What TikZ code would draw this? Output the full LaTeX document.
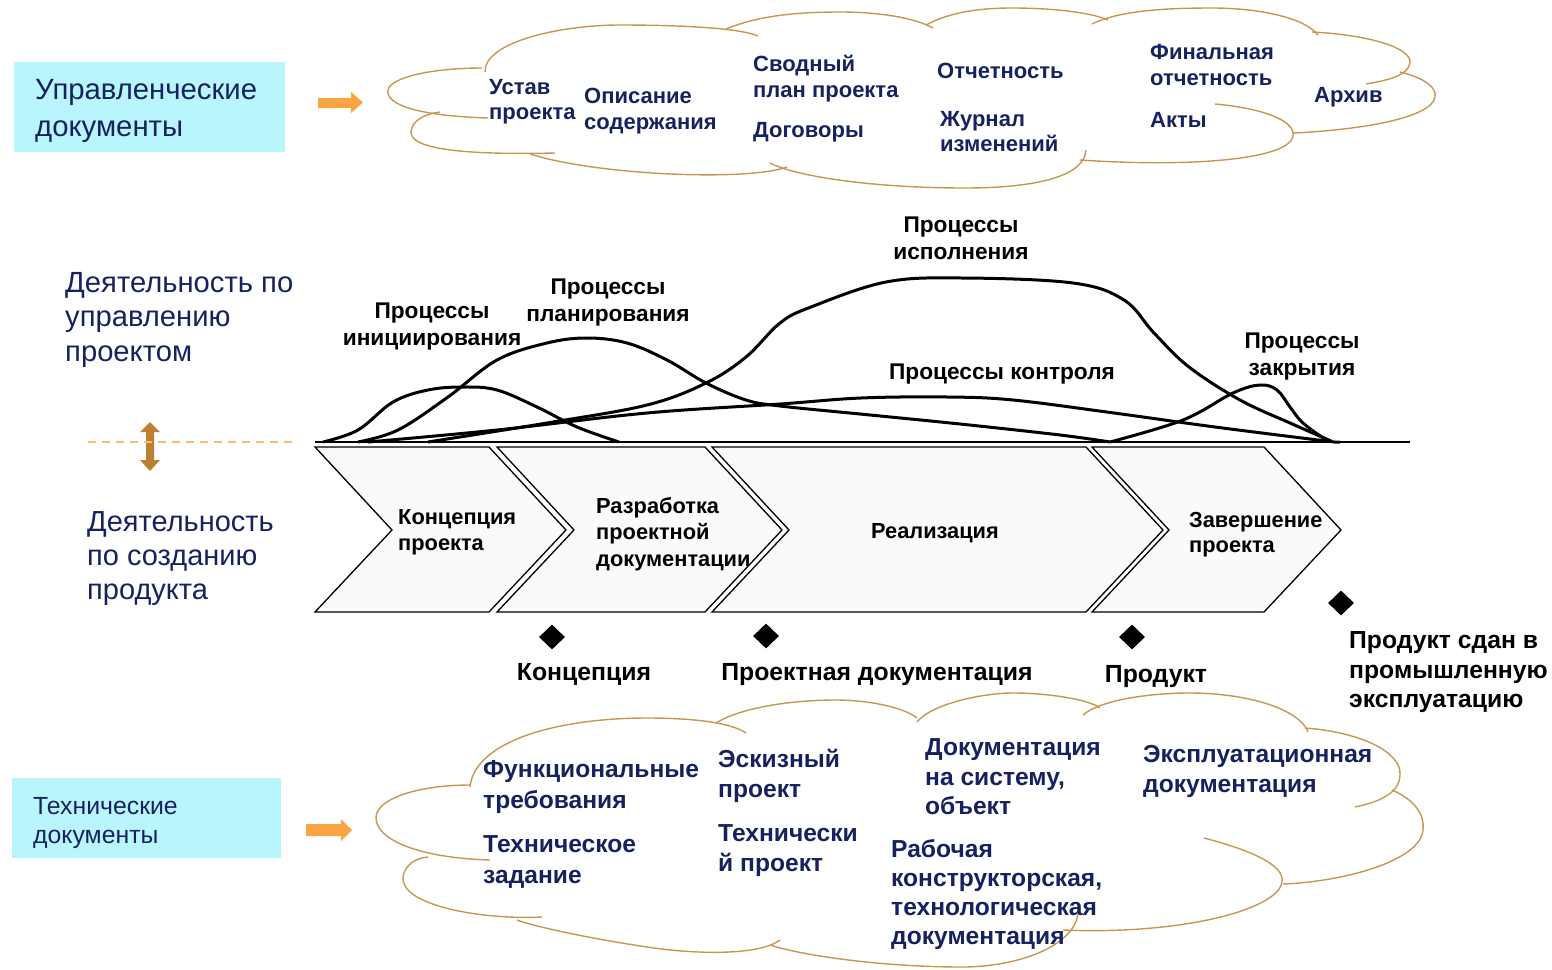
\documentclass[tikz,border=0pt]{standalone}
\usepackage{fontspec}
\setmainfont{Liberation Sans}
\usetikzlibrary{shapes.geometric}
\definecolor{navy}{RGB}{22,34,96}
\definecolor{cyanbox}{RGB}{185,245,253}
\definecolor{cloudc}{RGB}{200,150,80}
\definecolor{arroworange}{RGB}{250,165,65}
\definecolor{brownarrow}{RGB}{190,128,48}
\definecolor{dashorange}{RGB}{250,190,110}
\definecolor{chevfill}{RGB}{250,250,250}
\begin{document}
\begin{tikzpicture}[x=1pt,y=-1pt,
  cloudline/.style={draw=cloudc, line width=1.4pt},
  curve/.style={line width=3pt, line join=round},
  chev/.style={fill=chevfill, draw=black, line width=1.3pt, line join=miter},
  plabel/.style={font=\fontsize{22.7}{27}\selectfont\bfseries, align=center, inner sep=0pt, text=black, yshift=-2.5pt},
  ctxt/.style={font=\fontsize{22}{25.5}\selectfont\bfseries, align=left, inner sep=0pt, anchor=west, text=navy, yshift=-2.5pt},
  btxt/.style={font=\fontsize{24.6}{30}\selectfont\bfseries, align=left, inner sep=0pt, anchor=west, text=navy, yshift=-2.5pt},
  chtxt/.style={font=\fontsize{21.8}{26.5}\selectfont\bfseries, align=left, inner sep=0pt, anchor=west, text=black, yshift=-2.5pt},
  mtxt/.style={font=\fontsize{24.8}{30}\selectfont\bfseries, align=left, inner sep=0pt, text=black, yshift=-2.5pt},
  leftlbl/.style={font=\fontsize{29.2}{34.5}\selectfont, align=left, inner sep=0pt, anchor=west, text=navy, yshift=-3.5pt},
  docbox/.style={fill=cyanbox, draw=none, inner sep=0pt},
  milestone/.style={diamond, fill=black, minimum width=26pt, minimum height=25pt, inner sep=0pt}
]
\useasboundingbox (0,0) rectangle (1552,969);

% ---------- left labels ----------
\node[docbox, minimum width=271pt, minimum height=90pt] (mbox) at (149.5,107) {};
\node[leftlbl, font=\fontsize{29.3}{37}\selectfont] (mboxtext) at (35,107.5) {Управленческие\\документы};
\node[docbox, minimum width=269pt, minimum height=80pt] (tbox) at (146.5,818) {};
\node[leftlbl, font=\fontsize{24.8}{29}\selectfont] (tboxtext) at (33,819.5) {Технические\\документы};
\node[leftlbl] (mgmt) at (65,316) {Деятельность по\\управлению\\проектом};
\node[leftlbl, font=\fontsize{29}{34}\selectfont] (prod) at (87,555.5) {Деятельность\\по созданию\\продукта};

% orange arrows
\fill[arroworange] (318,98) -- (351,98) -- (351,92) -- (363,102.5) -- (351,113) -- (351,108) -- (318,108) -- cycle;
\fill[arroworange] (306,824) -- (341,824) -- (341,819) -- (352,830) -- (341,841) -- (341,836) -- (306,836) -- cycle;

% vertical double arrow and dashed line
\fill[brownarrow] (150,422) -- (160,432) -- (154,432) -- (154,460) -- (160,460) -- (150,471) -- (140,460) -- (146,460) -- (146,432) -- (140,432) -- cycle;
\draw[dashorange, line width=2.5pt, dash pattern=on 8pt off 6pt] (88,442) -- (295,442);

% ---------- top cloud ----------
\draw[cloudline] (485,72) .. controls (484,42) and (560,25) .. (620,25) .. controls (680,25) and (740,28) .. (758,36);
\draw[cloudline] (726,29) .. controls (760,15) and (800,12) .. (840,12) .. controls (880,12) and (915,18) .. (933,28);
\draw[cloudline] (926,25) .. controls (950,12) and (980,8) .. (1012,8) .. controls (1050,8) and (1090,12) .. (1108,20);
\draw[cloudline] (1092,24) .. controls (1120,10) and (1170,8) .. (1212,8) .. controls (1260,8) and (1305,18) .. (1318,35);
\draw[cloudline] (1312,32) .. controls (1370,35) and (1412,48) .. (1410,63) .. controls (1408,75) and (1390,80) .. (1366,84);
\draw[cloudline] (1400,72) .. controls (1425,78) and (1437,88) .. (1435,97) .. controls (1432,118) and (1360,130) .. (1293,133);
\draw[cloudline] (1215,104) .. controls (1260,108) and (1296,120) .. (1293,136) .. controls (1290,158) and (1200,168) .. (1080,160);
\draw[cloudline] (1086,150) .. controls (1085,175) and (1040,188) .. (965,188) .. controls (880,188) and (800,178) .. (770,163);
\draw[cloudline] (787,167) .. controls (750,181) and (600,176) .. (530,154);
\draw[cloudline] (555,153) .. controls (470,155) and (410,150) .. (411,132) .. controls (412,120) and (425,114) .. (440,112);
\draw[cloudline] (488,118) .. controls (420,116) and (385,105) .. (388,90) .. controls (390,78) and (430,68) .. (482,68);

% top cloud texts
\node[ctxt] (t1) at (489,99) {Устав\\проекта};
\node[ctxt] (t2) at (584,108.5) {Описание\\содержания};
\node[ctxt] (t3) at (753,76) {Сводный\\план проекта};
\node[ctxt] (t4) at (753,130) {Договоры};
\node[ctxt] (t5) at (937,68) {Отчетность};
\node[ctxt] (t6) at (940,129) {Журнал\\изменений};
\node[ctxt] (t7) at (1150,62.5) {Финальная\\отчетность};
\node[ctxt] (t8) at (1150,117) {Акты};
\node[ctxt] (t9) at (1314,95) {Архив};

% ---------- process curves ----------
\draw[curve] plot[smooth, tension=0.6] coordinates {(323,442) (358,430) (393,402) (428,390) (463,387) (497,390) (537,407) (577,427) (619,442)};
\draw[curve] plot[smooth, tension=0.6] coordinates {(358,442) (398,430) (448,397) (497,360) (547,343) (587,338) (627,343) (667,360) (706,383) (746,400) (780,406) (860,414) (960,424) (1060,435) (1110,442)};
\draw[curve] plot[smooth, tension=0.6] coordinates {(368,442) (497,430) (647,413) (780,404) (861,398) (947,397) (1013,400) (1114,413) (1215,427) (1326,441)};
\draw[curve] plot[smooth, tension=0.6] coordinates {(428,442) (547,423) (647,405) (706,383) (746,357) (780,323) (811,307) (886,282) (962,278) (1073,283) (1124,300) (1154,333) (1189,367) (1240,400) (1290,423) (1331,441)};
\draw[curve] plot[smooth, tension=0.6] coordinates {(1110,442) (1183,420) (1233,393) (1260,385) (1277,390) (1290,407) (1303,423) (1327,440) (1340,442)};
\draw[line width=2.5pt] (315,442) -- (1410,442);

\node[plabel] (p1) at (432,324.5) {Процессы\\инициирования};
\node[plabel] (p2) at (608,300.5) {Процессы\\планирования};
\node[plabel] (p3) at (961,236) {Процессы\\исполнения};
\node[plabel] (p4) at (1002,372) {Процессы контроля};
\node[plabel] (p5) at (1302,354) {Процессы\\закрытия};

% ---------- chevrons ----------
\draw[chev] (315,447) -- (489,447) -- (566,530) -- (489,612) -- (315,612) -- (392,530) -- cycle;
\draw[chev] (497,447) -- (705,447) -- (782,530) -- (705,612) -- (497,612) -- (574,530) -- cycle;
\draw[chev] (712,447) -- (1086,447) -- (1163,530) -- (1086,612) -- (712,612) -- (789,530) -- cycle;
\draw[chev] (1092,447) -- (1264,447) -- (1341,530) -- (1264,612) -- (1092,612) -- (1169,530) -- cycle;

\node[chtxt] (c1) at (398,530) {Концепция\\проекта};
\node[chtxt] (c2) at (596,531.5) {Разработка\\проектной\\документации};
\node[chtxt, anchor=center] (c3) at (935,531) {Реализация};
\node[chtxt, font=\fontsize{21.8}{25}\selectfont\bfseries] (c4) at (1189,532.5) {Завершение\\проекта};

% ---------- milestones ----------
\node[milestone] (m1) at (552,637) {};
\node[milestone] (m2) at (766,636) {};
\node[milestone] (m3) at (1132,637) {};
\node[milestone] (m4) at (1341,603) {};
\node[mtxt] (ml1) at (584,672) {Концепция};
\node[mtxt] (ml2) at (877,672) {Проектная документация};
\node[mtxt] (ml3) at (1156,674) {Продукт};
\node[mtxt, anchor=west, font=\fontsize{24.7}{29.5}\selectfont\bfseries] (ml4) at (1349,670) {Продукт сдан в\\промышленную\\эксплуатацию};

% ---------- bottom cloud ----------
\draw[cloudline] (470,787) .. controls (475,740) and (560,718) .. (647,718) .. controls (690,718) and (730,722) .. (746,733);
\draw[cloudline] (716,723) .. controls (740,708) and (790,700) .. (836,700) .. controls (870,700) and (905,708) .. (917,718);
\draw[cloudline] (917,722) .. controls (930,705) and (980,693) .. (1013,693) .. controls (1050,693) and (1090,700) .. (1100,708);
\draw[cloudline] (1083,715) .. controls (1100,700) and (1150,693) .. (1189,693) .. controls (1250,693) and (1300,710) .. (1308,732);
\draw[cloudline] (1305,728) .. controls (1360,732) and (1402,752) .. (1400,775) .. controls (1400,790) and (1385,801) .. (1355,807);
\draw[cloudline] (1392,790) .. controls (1415,800) and (1425,815) .. (1423,830) .. controls (1420,862) and (1340,882) .. (1283,884);
\draw[cloudline] (1204,838) .. controls (1250,850) and (1285,865) .. (1282,882) .. controls (1278,910) and (1180,935) .. (1063,930);
\draw[cloudline] (1078,913) .. controls (1075,945) and (1020,967) .. (962,967) .. controls (880,967) and (800,955) .. (770,945);
\draw[cloudline] (780,940) .. controls (760,955) and (700,955) .. (647,947) .. controls (580,937) and (530,925) .. (517,920);
\draw[cloudline] (542,917) .. controls (480,920) and (400,905) .. (403,877) .. controls (405,865) and (415,858) .. (428,857);
\draw[cloudline] (490,860) .. controls (420,858) and (375,840) .. (376,817) .. controls (377,798) and (420,785) .. (470,785);

% bottom cloud texts
\node[btxt, font=\fontsize{24.6}{31}\selectfont\bfseries] (b1) at (483,784.5) {Функциональные\\требования};
\node[btxt, font=\fontsize{24.6}{31}\selectfont\bfseries] (b2) at (483,859.5) {Техническое\\задание};
\node[btxt] (b3) at (718,773) {Эскизный\\проект};
\node[btxt] (b4) at (718,848) {Технически\\й проект};
\node[btxt, font=\fontsize{24.6}{29.5}\selectfont\bfseries] (b5) at (925,774.5) {Документация\\на систему,\\объект};
\node[btxt] (b6) at (1143,769) {Эксплуатационная\\документация};
\node[btxt, font=\fontsize{24.6}{29.3}\selectfont\bfseries] (b7) at (891,892) {Рабочая\\конструкторская,\\технологическая\\документация};
\end{tikzpicture}
\end{document}
